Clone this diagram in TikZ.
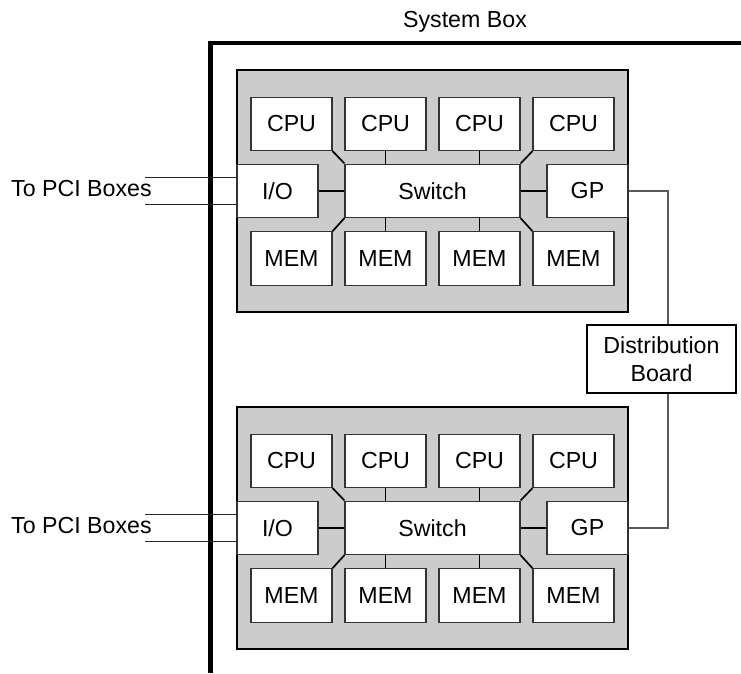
\documentclass[tikz,border=0pt]{standalone}
\usepackage{fontspec}
\setmainfont{Liberation Sans}
\begin{document}
\begin{tikzpicture}[x=1pt,y=-1pt,
  txt/.style={font=\fontsize{23.2}{28}\selectfont},
  box/.style={txt, draw=black!80, line width=1.1pt, fill=white, minimum width=81pt, minimum height=53.5pt, inner sep=0pt},
  board/.style={draw=black, line width=2.3pt, fill=black!20, minimum width=391pt, minimum height=242pt, inner sep=0pt},
  link/.style={draw=black, line width=1.7pt},
  pci/.style={draw=black!85, line width=1pt},
  dist/.style={draw=black!65, line width=1.4pt},
  lbl/.style={txt, inner sep=0pt},
  sysline/.style={draw=black, line width=4.3pt}
]
\useasboundingbox (0,0) rectangle (741,673);
% system box
\coordinate (sysbot) at (210.5,673);
\coordinate (syscorner) at (210.5,43.3);
\coordinate (sysright) at (741,43.3);
\draw[sysline] (sysbot) -- (syscorner) -- (sysright);
\node[lbl, anchor=base] (syslbl) at (465,27) {System Box};

\foreach \k/\dy in {1/0,2/337}{
  \node[board] (board\k) at (432.5,191+\dy) {};
  \foreach \i/\x in {1/291.5,2/385.5,3/479.5,4/573.5}{
    \node[box] (cpu\k\i) at (\x,123.8+\dy) {CPU};
    \node[box] (mem\k\i) at (\x,258.5+\dy) {MEM};
  }
  \node[box] (io\k) at (277.5,190.8+\dy) {I/O};
  \node[box, minimum width=175pt] (sw\k) at (432.5,190.8+\dy) {Switch};
  \node[box] (gp\k) at (587.5,190.8+\dy) {GP};
  \draw[link] (cpu\k1.south east) -- (sw\k.north west);
  \draw[link] (cpu\k2.south) -- (cpu\k2.south |- sw\k.north);
  \draw[link] (cpu\k3.south) -- (cpu\k3.south |- sw\k.north);
  \draw[link] (cpu\k4.south west) -- (sw\k.north east);
  \draw[link] (mem\k1.north east) -- (sw\k.south west);
  \draw[link] (mem\k2.north) -- (mem\k2.north |- sw\k.south);
  \draw[link] (mem\k3.north) -- (mem\k3.north |- sw\k.south);
  \draw[link] (mem\k4.north west) -- (sw\k.south east);
  \draw[link] (io\k.east) -- (sw\k.west);
  \draw[link] (gp\k.west) -- (sw\k.east);
  % PCI
  \coordinate (pa\k) at (145,177+\dy);
  \coordinate (pb\k) at (145,204+\dy);
  \draw[pci] (pa\k) -- (pa\k -| io\k.west);
  \draw[pci] (pb\k) -- (pb\k -| io\k.west);
  \node[lbl, anchor=base west] (pcilbl\k) at (11,196+\dy) {To PCI Boxes};
}

\node[box, draw=black, line width=2pt, minimum width=149pt, minimum height=68pt, align=center] (db) at (661.5,359) {Distribution\\Board};
\coordinate (dx) at (668,0);
\draw[dist] (gp1.east) -| (dx |- db.north);
\draw[dist] (dx |- db.south) |- (gp2.east);
\end{tikzpicture}
\end{document}
